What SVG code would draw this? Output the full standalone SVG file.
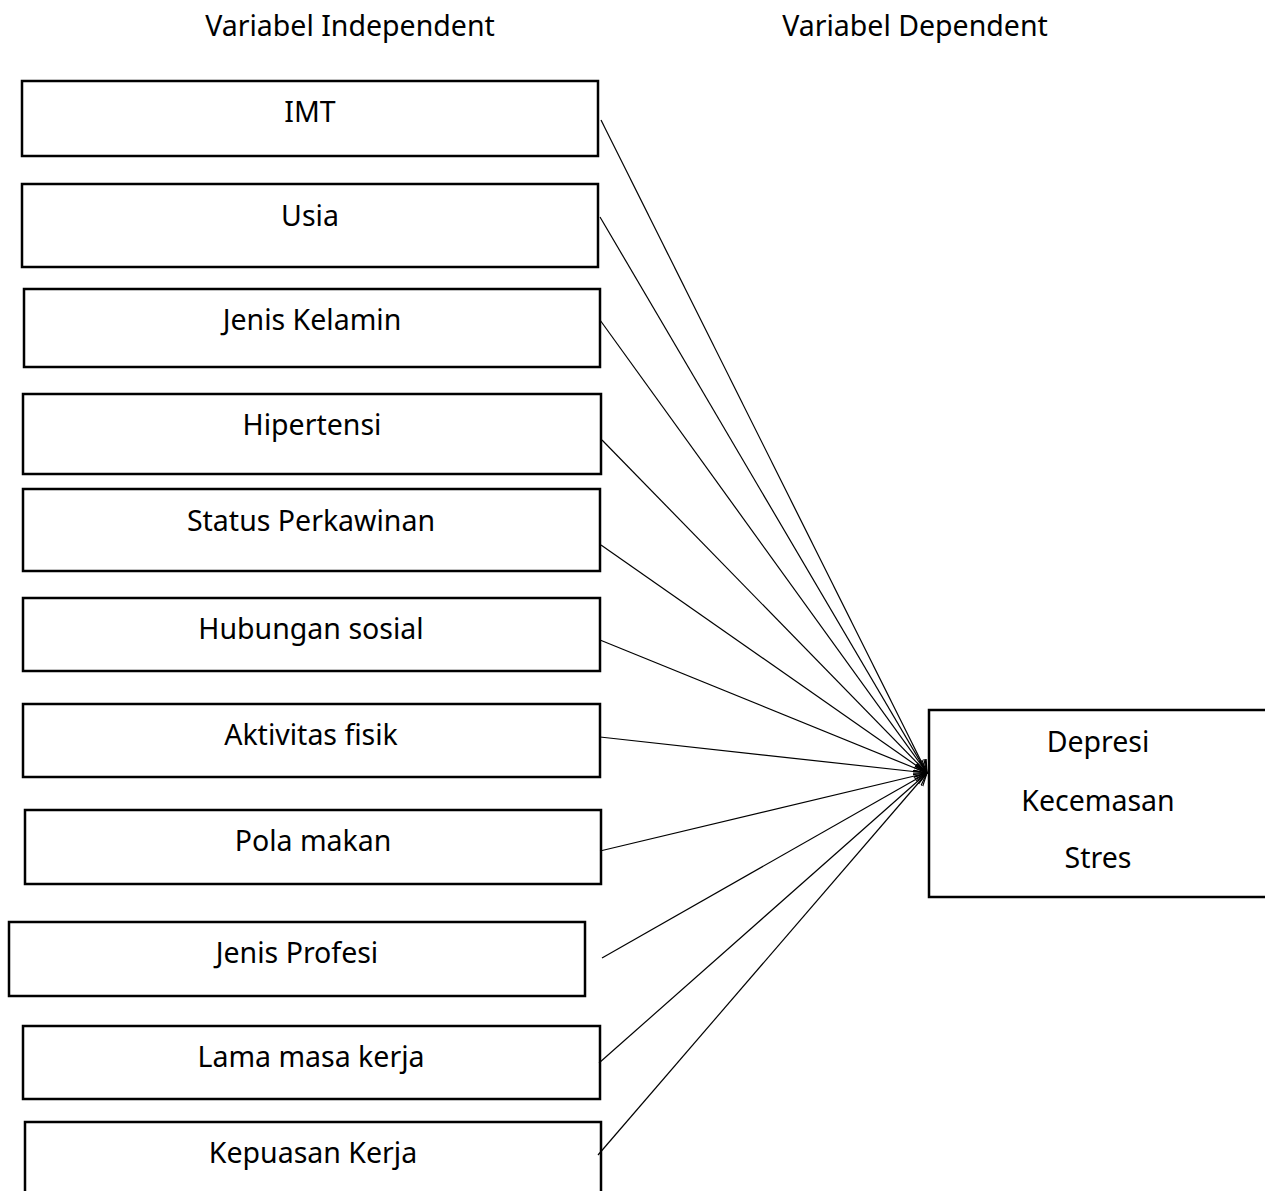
<svg xmlns="http://www.w3.org/2000/svg" width="1265" height="1191" viewBox="0 0 1265 1191">
<style>
.box{fill:#fff;stroke:#000;stroke-width:2.5}
.t{font-family:"Noto Sans","Open Sans",sans-serif;font-size:28.5px;fill:#000;text-anchor:middle}
.c{stroke:#000;stroke-width:1.2;fill:none;marker-end:url(#arr)}
</style>
<defs>
<marker id="arr" viewBox="0 0 14 14" refX="13" refY="7" markerWidth="14" markerHeight="14" markerUnits="userSpaceOnUse" orient="auto">
<path d="M0,1.5 L13,7 L0,12.5" fill="none" stroke="#000" stroke-width="1.2"/>
</marker>
</defs>
<rect width="1265" height="1191" fill="#fff"/>
<text class="t" x="350" y="36">Variabel Independent</text>
<text class="t" x="915" y="36">Variabel Dependent</text>
<g id="n1"><rect class="box" x="22" y="81" width="576" height="75"/><text class="t" x="310" y="122">IMT</text></g>
<g id="n2"><rect class="box" x="22" y="184" width="576" height="83"/><text class="t" x="310" y="226">Usia</text></g>
<g id="n3"><rect class="box" x="24" y="289" width="576" height="78"/><text class="t" x="312" y="330">Jenis Kelamin</text></g>
<g id="n4"><rect class="box" x="23" y="394" width="578" height="80"/><text class="t" x="312" y="435">Hipertensi</text></g>
<g id="n5"><rect class="box" x="23" y="489" width="577" height="82"/><text class="t" x="311" y="531">Status Perkawinan</text></g>
<g id="n6"><rect class="box" x="23" y="598" width="577" height="73"/><text class="t" x="311" y="639">Hubungan sosial</text></g>
<g id="n7"><rect class="box" x="23" y="704" width="577" height="73"/><text class="t" x="311" y="745">Aktivitas fisik</text></g>
<g id="n8"><rect class="box" x="25" y="810" width="576" height="74"/><text class="t" x="313" y="851">Pola makan</text></g>
<g id="n9"><rect class="box" x="9" y="922" width="576" height="74"/><text class="t" x="297" y="963">Jenis Profesi</text></g>
<g id="n10"><rect class="box" x="23" y="1026" width="577" height="73"/><text class="t" x="311" y="1067">Lama masa kerja</text></g>
<g id="n11"><rect class="box" x="25" y="1122" width="576" height="80"/><text class="t" x="313" y="1163">Kepuasan Kerja</text></g>
<g id="n12"><rect class="box" x="929" y="710" width="345" height="187"/><text class="t" x="1098" y="752">Depresi</text><text class="t" x="1098" y="811">Kecemasan</text><text class="t" x="1098" y="868">Stres</text></g>
<g id="connectors">
<line class="c" x1="601" y1="120" x2="927" y2="773"/>
<line class="c" x1="600" y1="217" x2="927" y2="773"/>
<line class="c" x1="600" y1="320" x2="927" y2="773"/>
<line class="c" x1="602" y1="440" x2="927" y2="773"/>
<line class="c" x1="601" y1="545" x2="927" y2="773"/>
<line class="c" x1="600" y1="640" x2="927" y2="773"/>
<line class="c" x1="600" y1="737" x2="927" y2="773"/>
<line class="c" x1="600" y1="851" x2="927" y2="773"/>
<line class="c" x1="602" y1="958" x2="927" y2="773"/>
<line class="c" x1="599" y1="1063" x2="927" y2="773"/>
<line class="c" x1="598" y1="1155" x2="927" y2="773"/>
</g>
</svg>
